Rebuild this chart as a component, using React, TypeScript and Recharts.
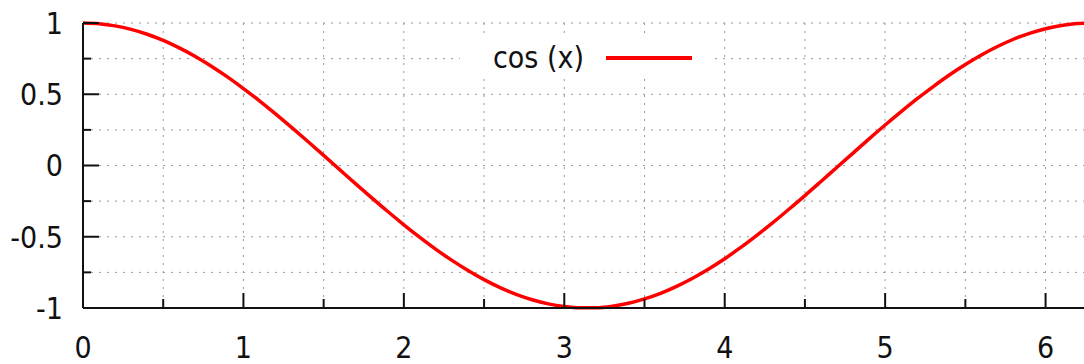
import React from 'react';
import { LineChart, Line, CartesianGrid, XAxis, YAxis, Legend } from 'recharts';

// x positions (radians) and the curve height
const xs = [
    0, 0.1, 0.2, 0.3, 0.4, 0.5, 0.6, 0.7, 0.8, 0.9, 1.0, 1.1, 1.2, 1.3, 1.4, 1.5, 1.6, 1.7, 1.8, 1.9, 2.0, 2.1,
    2.2, 2.3, 2.4, 2.5, 2.6, 2.7, 2.8, 2.9, 3.0, 3.1, 3.2, 3.3, 3.4, 3.5, 3.6, 3.7, 3.8, 3.9, 4.0, 4.1, 4.2, 4.3,
    4.4, 4.5, 4.6, 4.7, 4.8, 4.9, 5.0, 5.1, 5.2, 5.3, 5.4, 5.5, 5.6, 5.7, 5.8, 5.9, 6.0, 6.1, 6.2, 6.2832,
];
const cosValues = [
    1, 0.995, 0.98, 0.955, 0.921, 0.878, 0.825, 0.765, 0.697, 0.622, 0.54, 0.454, 0.362, 0.267, 0.17, 0.071,
    -0.029, -0.129, -0.227, -0.323, -0.416, -0.505, -0.589, -0.666, -0.737, -0.801, -0.857, -0.904, -0.942,
    -0.971, -0.99, -0.999, -0.998, -0.987, -0.967, -0.936, -0.897, -0.848, -0.791, -0.726, -0.654, -0.575,
    -0.49, -0.401, -0.307, -0.211, -0.112, -0.012, 0.087, 0.187, 0.284, 0.378, 0.469, 0.554, 0.635, 0.709,
    0.776, 0.835, 0.886, 0.927, 0.96, 0.983, 0.997, 1,
];
const xTicks = [0, 0.5, 1, 1.5, 2, 2.5, 3, 3.5, 4, 4.5, 5, 5.5, 6];
const yTicks = [-1, -0.75, -0.5, -0.25, 0, 0.25, 0.5, 0.75, 1];
const seriesName = 'cos (x)';

const data = xs.map((x, i) => ({ x, y: cosValues[i] }));

const FONT = '"DejaVu Sans Condensed", "DejaVu Sans", sans-serif';
const INK = '#111';

const XTick = (props: any) => {
    const { x, y, payload } = props;
    const major = Number.isInteger(payload.value);
    return (
        <g>
            <line x1={x} y1={y} x2={x} y2={y - (major ? 15 : 9)} stroke={INK} strokeWidth={2} />
            {major && (
                <text x={x} y={y + 50} textAnchor="middle" fontSize={30} fontFamily={FONT} fill={INK}>
                    {payload.value}
                </text>
            )}
        </g>
    );
};

const YTick = (props: any) => {
    const { x, y, payload } = props;
    const major = Number.isInteger(payload.value * 2);
    return (
        <g>
            <line x1={x} y1={y} x2={x + (major ? 16 : 8)} y2={y} stroke={INK} strokeWidth={2} />
            {major && (
                <text x={x - 20} y={y} dy="0.36em" textAnchor="end" fontSize={30} fontFamily={FONT} fill={INK}>
                    {payload.value}
                </text>
            )}
        </g>
    );
};

const KeyBox = () => (
    <div
        style={{
            width: 250,
            height: 39,
            background: '#fff',
            display: 'flex',
            alignItems: 'center',
            fontFamily: FONT,
            fontSize: 30,
            color: INK,
        }}
    >
        <span style={{ marginLeft: 33 }}>{seriesName}</span>
        <span style={{ display: 'inline-block', width: 86, height: 4, background: '#ff0000', marginLeft: 22 }} />
    </div>
);

export default function App() {
    return (
        <div style={{ position: 'absolute', left: 0, top: 0, width: 1084, height: 364, overflow: 'hidden', background: '#fff' }}>
            <LineChart width={1095} height={364} data={data} margin={{ top: 23, right: 4, bottom: 0, left: 0 }}>
                <CartesianGrid stroke="#999" strokeDasharray="2 6" ticks={xTicks} />
                <XAxis
                    dataKey="x"
                    type="number"
                    domain={[0, 6.2832]}
                    ticks={xTicks}
                    interval={0}
                    height={56}
                    tickSize={0}
                    tickMargin={0}
                    tick={<XTick />}
                    axisLine={{ stroke: INK, strokeWidth: 2 }}
                    tickLine={false}
                />
                <XAxis
                    xAxisId="top"
                    orientation="top"
                    dataKey="x"
                    type="number"
                    domain={[0, 6.2832]}
                    height={0}
                    tick={false}
                    tickLine={false}
                    axisLine={{ stroke: INK, strokeWidth: 2 }}
                />
                <YAxis
                    type="number"
                    domain={[-1, 1]}
                    ticks={yTicks}
                    interval={0}
                    width={83}
                    tickSize={0}
                    tickMargin={0}
                    tick={<YTick />}
                    axisLine={{ stroke: INK, strokeWidth: 2 }}
                    tickLine={false}
                />
                <Legend
                    layout="horizontal"
                    verticalAlign="middle"
                    content={<KeyBox />}
                    wrapperStyle={{ left: 460, top: 38, width: 250, height: 39 }}
                />
                <Line
                    dataKey="y"
                    name={seriesName}
                    type="monotone"
                    stroke="#ff0000"
                    strokeWidth={3.5}
                    dot={false}
                    isAnimationActive={false}
                />
            </LineChart>
        </div>
    );
}
